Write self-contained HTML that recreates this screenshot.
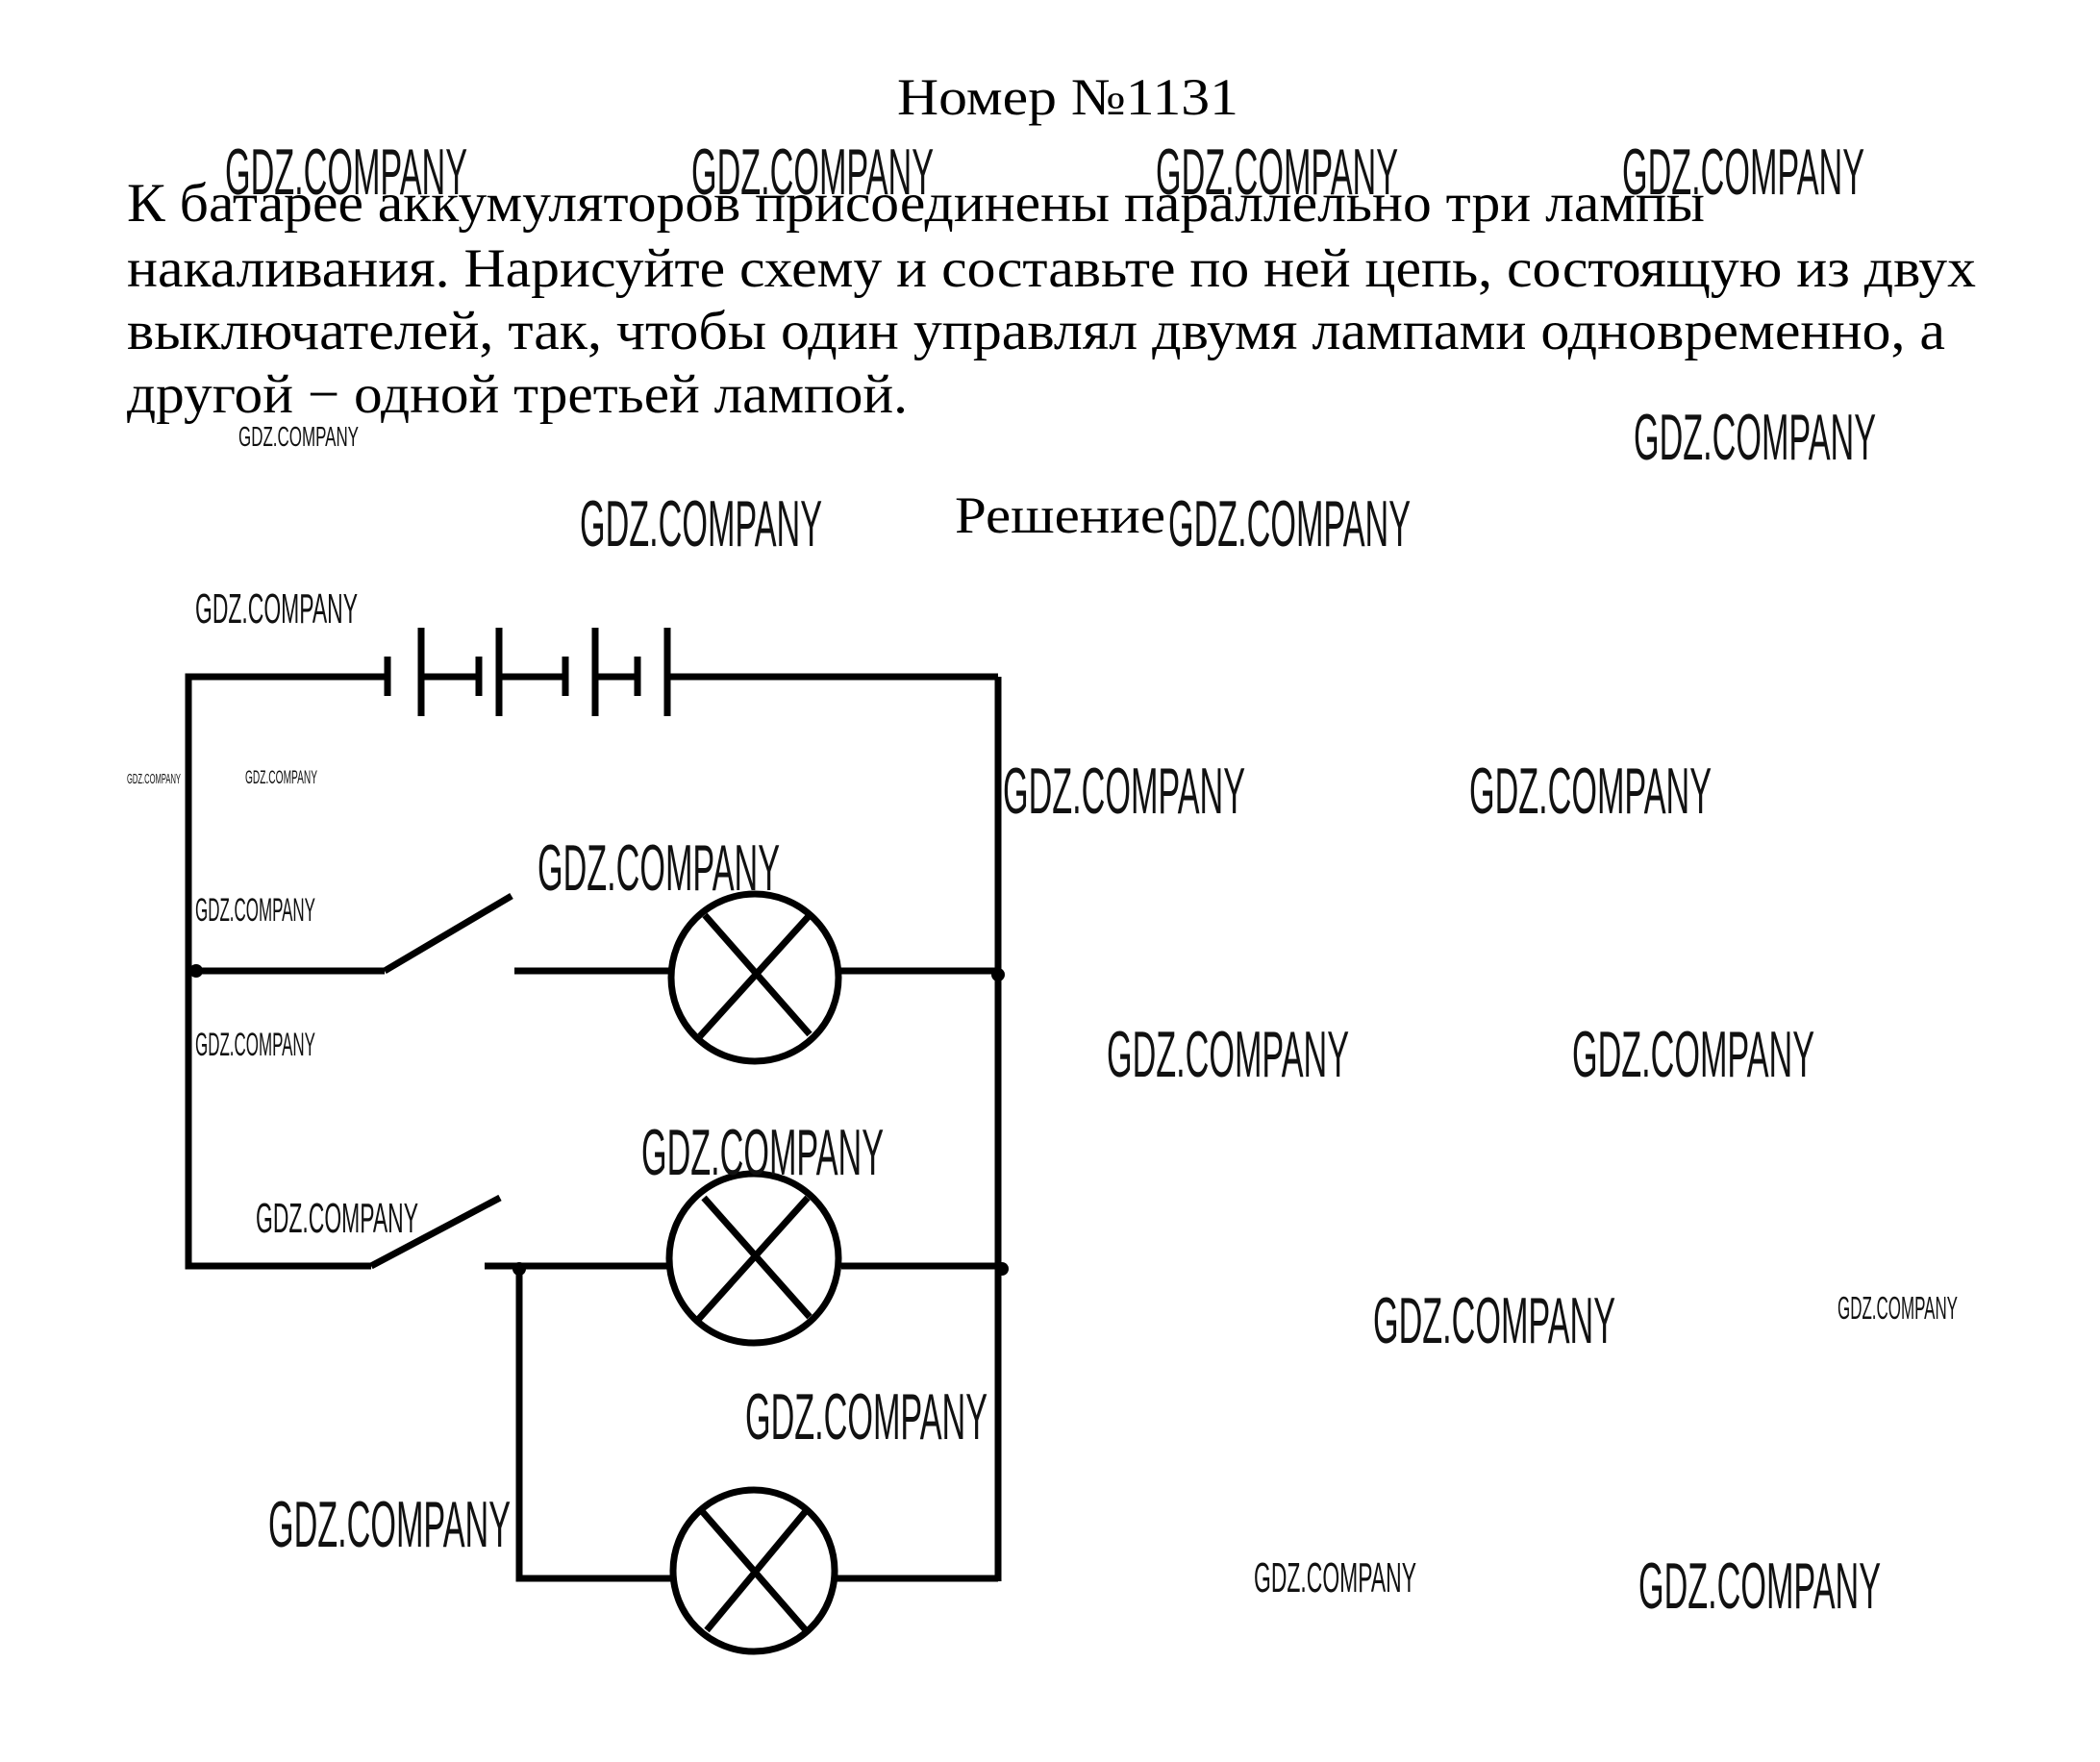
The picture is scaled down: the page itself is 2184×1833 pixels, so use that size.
<!DOCTYPE html>
<html><head><meta charset="utf-8"><style>
html,body{margin:0;padding:0;background:#fff;}
svg{display:block;}
.t{font-family:"Liberation Serif",serif;fill:#000;}
.w{font-family:"Liberation Sans",sans-serif;fill:#111;}
</style></head><body>
<svg width="2184" height="1833" viewBox="0 0 2184 1833" xmlns="http://www.w3.org/2000/svg">
<rect width="2184" height="1833" fill="#fff"/>
<text class="t" x="933" y="119" font-size="54" textLength="355" lengthAdjust="spacingAndGlyphs">Номер №1131</text>
<text class="t" x="132" y="230" font-size="57" textLength="1641" lengthAdjust="spacingAndGlyphs">К батарее аккумуляторов присоединены параллельно три лампы</text>
<text class="t" x="132" y="298" font-size="57" textLength="1923" lengthAdjust="spacingAndGlyphs">накаливания. Нарисуйте схему и составьте по ней цепь, состоящую из двух</text>
<text class="t" x="132" y="363" font-size="57" textLength="1891" lengthAdjust="spacingAndGlyphs">выключателей, так, чтобы один управлял двумя лампами одновременно, а</text>
<text class="t" x="132" y="429" font-size="57" textLength="812" lengthAdjust="spacingAndGlyphs">другой − одной третьей лампой.</text>
<text class="t" x="993" y="554" font-size="54" textLength="219" lengthAdjust="spacingAndGlyphs">Решение</text>

<g stroke="#000" stroke-width="7" fill="none">
<polyline points="403,704 196,704 196,1317 386,1317"/>
<line x1="694" y1="704" x2="1038" y2="704"/>
<line x1="1038" y1="704" x2="1038" y2="1645"/>
<line x1="403" y1="683" x2="403" y2="724"/>
<line x1="438" y1="653" x2="438" y2="745"/>
<line x1="438" y1="704" x2="498" y2="704"/>
<line x1="498" y1="683" x2="498" y2="724"/>
<line x1="519" y1="653" x2="519" y2="745"/>
<line x1="519" y1="704" x2="588" y2="704"/>
<line x1="588" y1="683" x2="588" y2="724"/>
<line x1="619" y1="653" x2="619" y2="745"/>
<line x1="619" y1="704" x2="663" y2="704"/>
<line x1="663" y1="683" x2="663" y2="724"/>
<line x1="694" y1="653" x2="694" y2="745"/>
<!-- branch 1 -->
<line x1="196" y1="1010" x2="400" y2="1010"/>
<line x1="400" y1="1010" x2="532" y2="932"/>
<line x1="535" y1="1010" x2="697" y2="1010"/>
<line x1="873" y1="1010" x2="1038" y2="1010"/>
<circle cx="785" cy="1017" r="87"/>
<line x1="733" y1="952" x2="842" y2="1076"/>
<line x1="842" y1="952" x2="728" y2="1078"/>
<!-- branch 2 -->
<line x1="386" y1="1317" x2="520" y2="1246"/>
<line x1="504" y1="1317" x2="695" y2="1317"/>
<line x1="875" y1="1317" x2="1038" y2="1317"/>
<circle cx="784" cy="1309" r="88"/>
<line x1="732" y1="1246" x2="842" y2="1370"/>
<line x1="840" y1="1246" x2="725" y2="1374"/>
<!-- branch 3 -->
<polyline points="540,1317 540,1642 700,1642"/>
<line x1="868" y1="1642" x2="1038" y2="1642"/>
<circle cx="784" cy="1634" r="84"/>
<line x1="730" y1="1572" x2="838" y2="1696"/>
<line x1="838" y1="1572" x2="735" y2="1696"/>
</g>
<g fill="#000">
<circle cx="204" cy="1010" r="7"/>
<circle cx="1038" cy="1014" r="7"/>
<circle cx="540" cy="1320" r="7"/>
<circle cx="1042" cy="1320" r="7"/>
</g>

<g class="w">
<text x="234" y="202" font-size="68" textLength="252" lengthAdjust="spacingAndGlyphs">GDZ.COMPANY</text>
<text x="719" y="202" font-size="68" textLength="252" lengthAdjust="spacingAndGlyphs">GDZ.COMPANY</text>
<text x="1202" y="202" font-size="68" textLength="252" lengthAdjust="spacingAndGlyphs">GDZ.COMPANY</text>
<text x="1687" y="202" font-size="68" textLength="252" lengthAdjust="spacingAndGlyphs">GDZ.COMPANY</text>
<text x="1699" y="478" font-size="68" textLength="252" lengthAdjust="spacingAndGlyphs">GDZ.COMPANY</text>
<text x="603" y="568" font-size="68" textLength="252" lengthAdjust="spacingAndGlyphs">GDZ.COMPANY</text>
<text x="1215" y="568" font-size="68" textLength="252" lengthAdjust="spacingAndGlyphs">GDZ.COMPANY</text>
<text x="1043" y="846" font-size="68" textLength="252" lengthAdjust="spacingAndGlyphs">GDZ.COMPANY</text>
<text x="1528" y="846" font-size="68" textLength="252" lengthAdjust="spacingAndGlyphs">GDZ.COMPANY</text>
<text x="559" y="926" font-size="68" textLength="252" lengthAdjust="spacingAndGlyphs">GDZ.COMPANY</text>
<text x="1151" y="1120" font-size="68" textLength="252" lengthAdjust="spacingAndGlyphs">GDZ.COMPANY</text>
<text x="1635" y="1120" font-size="68" textLength="252" lengthAdjust="spacingAndGlyphs">GDZ.COMPANY</text>
<text x="667" y="1222" font-size="68" textLength="252" lengthAdjust="spacingAndGlyphs">GDZ.COMPANY</text>
<text x="1428" y="1397" font-size="68" textLength="252" lengthAdjust="spacingAndGlyphs">GDZ.COMPANY</text>
<text x="775" y="1497" font-size="68" textLength="252" lengthAdjust="spacingAndGlyphs">GDZ.COMPANY</text>
<text x="279" y="1609" font-size="68" textLength="252" lengthAdjust="spacingAndGlyphs">GDZ.COMPANY</text>
<text x="1704" y="1673" font-size="68" textLength="252" lengthAdjust="spacingAndGlyphs">GDZ.COMPANY</text>
<text x="203" y="648" font-size="44" textLength="169" lengthAdjust="spacingAndGlyphs">GDZ.COMPANY</text>
<text x="266" y="1282" font-size="44" textLength="169" lengthAdjust="spacingAndGlyphs">GDZ.COMPANY</text>
<text x="1304" y="1656" font-size="44" textLength="169" lengthAdjust="spacingAndGlyphs">GDZ.COMPANY</text>
<text x="1911" y="1372" font-size="33" textLength="125" lengthAdjust="spacingAndGlyphs">GDZ.COMPANY</text>
<text x="203" y="958" font-size="34" textLength="125" lengthAdjust="spacingAndGlyphs">GDZ.COMPANY</text>
<text x="203" y="1098" font-size="34" textLength="125" lengthAdjust="spacingAndGlyphs">GDZ.COMPANY</text>
<text x="248" y="464" font-size="29" textLength="125" lengthAdjust="spacingAndGlyphs">GDZ.COMPANY</text>
<text x="255" y="815" font-size="19" textLength="75" lengthAdjust="spacingAndGlyphs">GDZ.COMPANY</text>
<text x="132" y="815" font-size="15" textLength="56" lengthAdjust="spacingAndGlyphs">GDZ.COMPANY</text>
</g>
</svg>
</body></html>
